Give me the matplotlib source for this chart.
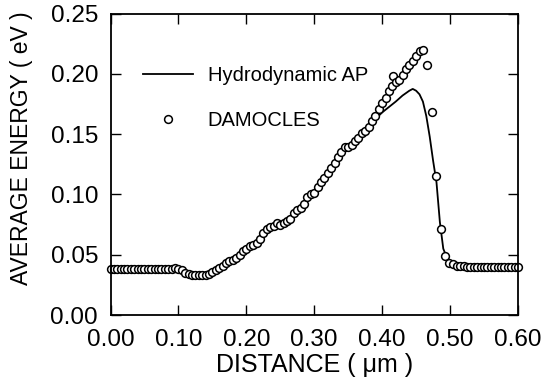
import matplotlib
matplotlib.use("Agg")
import matplotlib.pyplot as plt

plt.rcParams['font.family'] = ['Liberation Sans', 'DejaVu Sans']

# DAMOCLES (Monte Carlo) average energy
mc_x = [0.000, 0.005, 0.010, 0.015, 0.020, 0.025, 0.030, 0.035, 0.040, 0.045,
        0.050, 0.055, 0.060, 0.065, 0.070, 0.075, 0.080, 0.085, 0.090, 0.095,
        0.100, 0.105, 0.110, 0.115, 0.120, 0.125, 0.130, 0.135, 0.140, 0.145,
        0.150, 0.155, 0.160, 0.165, 0.170, 0.175, 0.180, 0.185, 0.190, 0.195,
        0.200, 0.205, 0.210, 0.215, 0.220, 0.225, 0.230, 0.235, 0.240, 0.245,
        0.250, 0.255, 0.260, 0.265, 0.270, 0.275, 0.280, 0.285, 0.290, 0.295,
        0.300, 0.305, 0.310, 0.315, 0.320, 0.325, 0.330, 0.335, 0.340, 0.345,
        0.350, 0.355, 0.360, 0.365, 0.370, 0.375, 0.380, 0.385, 0.390, 0.395,
        0.400, 0.405, 0.410, 0.415, 0.4165, 0.420, 0.425, 0.430, 0.435, 0.440,
        0.445, 0.450, 0.455, 0.460, 0.466, 0.473, 0.480, 0.486, 0.4925, 0.499,
        0.505, 0.510, 0.515, 0.520, 0.525, 0.530, 0.535, 0.540, 0.545, 0.550,
        0.555, 0.560, 0.565, 0.570, 0.575, 0.580, 0.585, 0.590, 0.595, 0.600]
mc_e = [0.038, 0.038, 0.038, 0.038, 0.038, 0.038, 0.038, 0.038, 0.038, 0.038,
        0.038, 0.038, 0.038, 0.038, 0.038, 0.038, 0.038, 0.038, 0.038, 0.039,
        0.038, 0.037, 0.035, 0.034, 0.033, 0.033, 0.033, 0.033, 0.033, 0.034,
        0.036, 0.037, 0.039, 0.041, 0.043, 0.045, 0.046, 0.047, 0.050, 0.053,
        0.055, 0.057, 0.058, 0.060, 0.063, 0.068, 0.071, 0.073, 0.074, 0.076,
        0.075, 0.076, 0.078, 0.080, 0.085, 0.087, 0.089, 0.092, 0.098, 0.100,
        0.101, 0.106, 0.110, 0.114, 0.118, 0.122, 0.126, 0.131, 0.135, 0.139,
        0.139, 0.141, 0.144, 0.147, 0.151, 0.153, 0.156, 0.161, 0.165, 0.171,
        0.176, 0.180, 0.186, 0.190, 0.198, 0.193, 0.195, 0.199, 0.204, 0.207,
        0.211, 0.215, 0.219, 0.220, 0.207, 0.168, 0.115, 0.071, 0.049, 0.043,
        0.042, 0.041, 0.041, 0.041, 0.040, 0.040, 0.040, 0.040, 0.040, 0.040,
        0.040, 0.040, 0.040, 0.040, 0.040, 0.040, 0.040, 0.040, 0.040, 0.040]

# Hydrodynamic AP model
hd_x = [0.00, 0.05, 0.09, 0.10, 0.11, 0.12, 0.13, 0.14, 0.15, 0.16, 0.18,
        0.20, 0.22, 0.24, 0.26, 0.28, 0.30, 0.32, 0.34, 0.36, 0.38, 0.40,
        0.42, 0.43, 0.44, 0.445, 0.45, 0.455, 0.46, 0.465, 0.47, 0.475,
        0.48, 0.485, 0.49, 0.495, 0.50, 0.51, 0.53, 0.56, 0.60]
hd_e = [0.039, 0.039, 0.039, 0.038, 0.035, 0.034, 0.034, 0.035, 0.037,
        0.040, 0.046, 0.054, 0.062, 0.072, 0.080, 0.089, 0.101, 0.116,
        0.132, 0.145, 0.157, 0.168, 0.177, 0.182, 0.186, 0.1875, 0.186,
        0.183, 0.177, 0.165, 0.148, 0.128, 0.110, 0.077, 0.055, 0.048,
        0.045, 0.043, 0.042, 0.042, 0.041]

x_ticks = [0.0, 0.1, 0.2, 0.3, 0.4, 0.5, 0.6]
y_ticks = [0.00, 0.05, 0.10, 0.15, 0.20, 0.25]

fig = plt.figure(figsize=(5.49, 3.87), dpi=100)
ax = fig.add_axes([0.2013, 0.186, 0.7422, 0.779])

ax.plot(hd_x, hd_e, color='black', lw=1.3, label='Hydrodynamic AP')
ax.plot(mc_x, mc_e, linestyle='none', marker='o', markersize=5.6,
        markerfacecolor='white', markeredgecolor='black', markeredgewidth=1.1,
        label='DAMOCLES', clip_on=False)

ax.set_xlim(0, 0.6)
ax.set_ylim(0, 0.25)
ax.set_xticks(x_ticks)
ax.set_yticks(y_ticks)
ax.set_xticklabels([f"{v:.2f}" for v in x_ticks])
ax.set_yticklabels([f"{v:.2f}" for v in y_ticks])
ax.tick_params(direction='in', length=7, width=1, top=True, right=True,
               labelsize=17.5)
ax.tick_params(axis='x', pad=10)
ax.tick_params(axis='y', pad=9)
for s in ax.spines.values():
    s.set_linewidth(1.3)

ax.set_xlabel('DISTANCE ( \u03bcm )', fontsize=18)
ax.set_ylabel('AVERAGE ENERGY ( eV )', fontsize=16.5)
ax.xaxis.set_label_coords(0.5, -0.125)
ax.yaxis.set_label_coords(-0.19, 0.554)

ax.legend(loc='upper left', bbox_to_anchor=(0.08, 0.826), frameon=False,
          fontsize=14.5, handlelength=2.5, handletextpad=0.7, labelspacing=1.3,
          borderpad=0, borderaxespad=0, numpoints=1)

fig.savefig('out.png', dpi=100)
